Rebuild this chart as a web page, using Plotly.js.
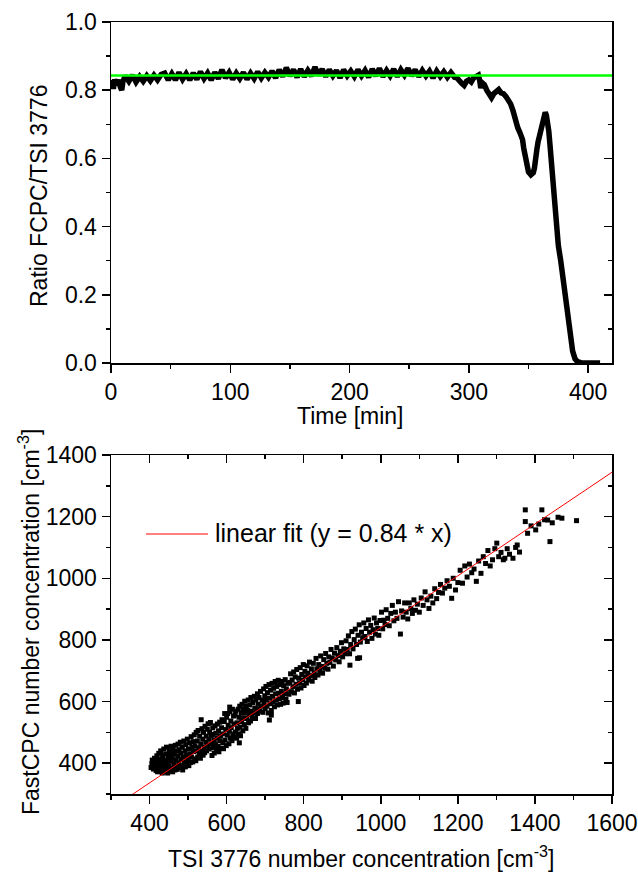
<!DOCTYPE html>
<html>
<head>
<meta charset="utf-8">
<script src="https://cdn.plot.ly/plotly-3.0.1.min.js"></script>
<style>html,body{margin:0;padding:0;background:#fff;}</style>
</head>
<body>
<div id="chart" style="width:638px;height:875px;"></div>
<script>
// ---- Top panel: ratio FastCPC / TSI 3776 over time ----
const timeMin = [
  0,1,2,3,4,6,8,9,10,
  12,15,18,21,24,27,30,33,36,39,
  42,45,48,51,54,57,60,63,66,69,
  72,75,78,81,84,87,90,93,96,99,
  102,105,108,111,114,117,120,123,126,129,
  132,135,138,141,144,147,150,153,156,159,
  162,165,168,171,174,177,180,183,186,189,
  192,195,198,201,204,207,210,213,216,219,
  222,225,228,231,234,237,240,243,246,249,
  252,255,258,261,264,267,270,273,276,279,
  282,285,288,290,292,294,296,298,300,302,
  304,306,308,309,310,311,313,315,317,319,
  321,323,325,327,329,331,333,335,337,339,
  341,343,345,346,347,348,349,350,352,354,
  355,356,357,358,359,360,361,362,363,364,
  365,366,367,368,369,370,371,372,373,374,
  375,377,379,381,383,385,387,389,391,394,
  400,405,410
];
const ratio = [
  0.815,0.828,0.804,0.832,0.816,0.83,0.808,0.8,0.826,
  0.842,0.826,0.844,0.824,0.84,0.826,0.842,0.828,0.844,0.83,
  0.846,0.85,0.83,0.848,0.83,0.852,0.832,0.848,0.83,0.85,
  0.832,0.854,0.834,0.85,0.83,0.852,0.834,0.86,0.836,0.852,
  0.832,0.85,0.834,0.852,0.832,0.85,0.834,0.854,0.836,0.852,
  0.838,0.856,0.836,0.86,0.84,0.866,0.842,0.86,0.838,0.862,
  0.84,0.858,0.842,0.868,0.844,0.862,0.84,0.86,0.842,0.858,
  0.836,0.86,0.842,0.856,0.84,0.86,0.842,0.858,0.838,0.862,
  0.842,0.864,0.84,0.858,0.842,0.862,0.84,0.86,0.844,0.864,
  0.842,0.86,0.84,0.858,0.842,0.856,0.836,0.856,0.84,0.854,
  0.838,0.852,0.838,0.836,0.826,0.82,0.814,0.826,0.83,0.824,
  0.836,0.84,0.844,0.83,0.806,0.822,0.816,0.8,0.784,0.778,
  0.79,0.798,0.802,0.792,0.79,0.782,0.774,0.76,0.74,0.706,
  0.69,0.674,0.655,0.63,0.61,0.59,0.572,0.56,0.552,0.558,
  0.572,0.59,0.626,0.648,0.664,0.672,0.694,0.716,0.73,0.735,
  0.726,0.71,0.68,0.64,0.59,0.555,0.52,0.48,0.43,0.385,
  0.345,0.30,0.25,0.20,0.14,0.08,0.035,0.012,0.004,0.001,
  0,0,0
];
const meanRatio = 0.843;
const meanLineX = [0, 420];

// ---- Bottom panel: FastCPC vs TSI 3776 number concentration ----
const tsi = [
  404,406,407,409,410,412,413,415,417,418,419,420,
  421,422,424,425,426,428,429,430,432,433,434,436,437,438,440,440,
  442,443,444,446,447,448,450,451,452,454,455,456,458,459,460,461,463,464,466,467,468,469,470,
  472,473,474,476,477,478,480,481,482,484,485,486,488,489,490,492,493,494,496,497,498,500,501,502,504,505,506,508,509,510,
  512,513,514,516,517,518,520,521,522,524,525,526,528,529,530,532,533,534,535,536,538,539,540,542,543,544,546,547,548,550,551,552,554,555,556,558,559,560,
  562,563,564,566,567,568,570,571,572,574,575,576,578,579,580,582,583,584,586,587,588,590,591,592,594,595,596,598,599,600,602,603,604,606,607,608,610,611,612,614,615,616,618,619,620,608,
  622,623,624,626,627,628,630,631,632,634,635,636,638,639,640,642,643,644,646,647,648,650,651,652,654,656,657,658,660,662,663,664,666,668,670,672,673,675,676,678,680,680,633,
  682,684,686,688,690,692,694,696,697,699,700,702,703,705,706,708,710,711,713,714,716,718,719,721,722,724,726,727,729,730,732,734,735,737,738,740,742,744,745,747,748,750,752,754,755,757,759,760,711,716,
  762,764,766,768,770,772,774,776,778,780,782,784,786,787,789,791,793,795,797,799,801,803,805,807,809,811,813,815,818,820,822,825,827,829,832,834,837,839,842,844,847,849,852,855,857,860,
  863,865,868,871,874,877,880,883,886,889,892,895,898,901,904,907,910,913,916,919,922,925,928,931,934,937,940,941,944,947,950,953,956,959,962,965,968,971,974,977,980,983,986,989,992,995,998,920,945,
  1002,1005,1008,1011,1014,1018,1022,1026,1030,1034,1038,1042,1046,1051,1054,1058,1062,1066,1070,1074,1078,1082,1086,1090,1095,1100,1105,1110,1115,1120,1125,1130,1135,1140,1145,1150,1155,1160,1166,1172,1178,1184,1188,1194,1200,
  1206,1212,1218,1224,1230,1236,1242,1248,1254,1260,1266,1272,1278,1284,1290,1296,1301,1306,1312,1318,1322,1328,1334,1343,1350,1354,1360,1375,1375,1381,1390,1402,1410,1418,1425,1433,1439,1445,1460,1470,1508
];
const fastcpc = [
  386,398,410,392,381,403,416,388,376,398,424,410,
  372,386,432,398,414,378,440,392,404,368,425,384,446,410,372,396,
  430,382,452,404,368,418,390,440,376,428,406,455,384,416,372,444,398,430,378,458,410,390,440,
  380,424,462,400,444,386,468,414,432,392,452,378,420,472,404,440,388,460,426,396,478,412,446,392,466,430,402,486,420,452,
  404,470,438,492,414,456,408,500,440,472,420,506,450,428,488,416,462,541,438,512,478,426,500,452,434,520,468,488,440,510,458,528,478,446,500,532,462,490,
  425,493,515,451,475,433,521,463,497,441,481,527,455,505,437,533,473,489,449,515,541,467,495,447,535,561,475,509,457,549,491,561,523,463,505,567,481,537,515,473,575,495,553,527,485,582,
  557,501,569,481,531,513,575,495,549,585,517,489,563,535,591,505,575,547,525,601,563,513,585,545,571,605,531,559,589,537,613,569,551,597,563,617,579,545,605,575,625,561,466,
  591,613,569,633,585,605,565,641,595,619,577,649,605,585,629,563,655,611,593,637,571,659,617,599,643,583,665,625,605,649,589,669,627,609,655,591,633,665,613,595,651,625,671,607,641,597,659,625,540,556,
  624,662,690,632,670,648,696,628,680,656,704,640,600,676,660,710,644,688,670,720,652,698,680,660,716,692,670,728,684,706,666,724,692,678,740,706,686,720,700,748,714,692,736,708,756,724,
  705,745,727,769,741,715,757,735,775,749,729,763,791,745,771,755,797,769,813,755,785,827,771,801,835,785,740,815,849,793,825,807,855,811,837,795,865,825,847,805,833,871,819,855,837,815,863,718,742,
  890,836,864,850,898,870,846,886,912,862,890,870,924,819,894,874,920,890,868,920,902,886,930,896,916,890,936,912,956,930,902,942,920,966,934,954,980,952,968,992,974,935,1000,962,986,
  1026,984,1040,1004,1046,1018,1030,990,1056,1016,1070,1048,1090,1040,1060,1096,1114,1070,1084,1060,1065,1096,1078,1065,1100,1108,1085,1222,1184,1146,1170,1157,1176,1222,1190,1189,1119,1180,1198,1195,1187
];
const fitSlope = 0.84;
const fitX = [300, 1600];
const fitLabel = 'linear fit (y = 0.84 * x)';

if (tsi.length !== fastcpc.length) throw new Error('length mismatch ' + tsi.length + ' vs ' + fastcpc.length);
if (timeMin.length !== ratio.length) throw new Error('length mismatch ' + timeMin.length + ' vs ' + ratio.length);

// ---- layout helpers (pixel -> paper) ----
const W = 638, H = 875, ML = 111, MR = 26, MT = 22, MB = 81;
const PW = W - ML - MR, PH = H - MT - MB;
const px = v => (v - ML) / PW;
const py = v => 1 - (v - MT) / PH;

const FONT = 'Liberation Sans, Arial, Helvetica, sans-serif';
const FS = 23;
const LW = 1.5;

const baseAxis = {
  showline: true, linecolor: 'black', linewidth: LW,
  showgrid: false, zeroline: false,
  ticks: 'outside', ticklen: 8, tickwidth: LW, tickcolor: 'black',
  tickfont: {family: FONT, size: FS, color: 'black'},
  fixedrange: true
};
const innerAxis = {
  showline: false, showgrid: false, zeroline: false, showticklabels: false,
  ticks: 'inside', ticklen: 8, tickwidth: LW, tickcolor: 'black', fixedrange: true
};

const traces = [
  {type: 'scatter', mode: 'lines', x: timeMin, y: ratio, xaxis: 'x', yaxis: 'y',
   line: {color: 'black', width: 5.5}, hoverinfo: 'skip'},
  {type: 'scatter', mode: 'lines', x: meanLineX, y: meanLineX.map(() => meanRatio), xaxis: 'x', yaxis: 'y',
   line: {color: '#00ff00', width: 2.5}, hoverinfo: 'skip'},
  {type: 'scatter', mode: 'markers', x: tsi, y: fastcpc, xaxis: 'x2', yaxis: 'y2',
   marker: {symbol: 'square', size: 5, color: 'black', line: {width: 0}}, hoverinfo: 'skip'},
  {type: 'scatter', mode: 'lines', x: fitX, y: fitX.map(v => fitSlope * v), xaxis: 'x2', yaxis: 'y2',
   line: {color: 'red', width: 1}, hoverinfo: 'skip'},
  // empty traces so that the inward-tick overlay axes are drawn
  {type: 'scatter', mode: 'markers', x: [], y: [], xaxis: 'x', yaxis: 'y3'},
  {type: 'scatter', mode: 'markers', x: [], y: [], xaxis: 'x5', yaxis: 'y2'},
  {type: 'scatter', mode: 'markers', x: [], y: [], xaxis: 'x2', yaxis: 'y5'}
];

const layout = {
  width: W, height: H,
  margin: {l: ML, r: MR, t: MT, b: MB, pad: 0},
  paper_bgcolor: 'white', plot_bgcolor: 'white',
  showlegend: false,
  font: {family: FONT, size: FS, color: 'black'},
  xaxis: Object.assign({}, baseAxis, {
    domain: [0, 1], anchor: 'y', range: [0, 420], tick0: 0, dtick: 100, mirror: true,
    minor: {dtick: 50, ticks: 'outside', ticklen: 4, tickwidth: LW, tickcolor: 'black', showgrid: false}
  }),
  yaxis: Object.assign({}, baseAxis, {
    domain: [py(363), 1], anchor: 'x', range: [0, 1], tick0: 0, dtick: 0.2, tickformat: '.1f', mirror: true,
    minor: {dtick: 0.1, ticks: 'outside', ticklen: 4, tickwidth: LW, tickcolor: 'black', showgrid: false}
  }),
  yaxis3: Object.assign({}, innerAxis, {
    overlaying: 'y', side: 'right', anchor: 'x', range: [0, 1], tick0: 0, dtick: 0.2,
    minor: {dtick: 0.1, ticks: 'inside', ticklen: 4, tickwidth: LW, tickcolor: 'black', showgrid: false}
  }),
  xaxis2: Object.assign({}, baseAxis, {
    domain: [0, 1], anchor: 'y2', range: [300, 1600], tick0: 0, dtick: 200, mirror: true,
    minor: {dtick: 100, ticks: 'outside', ticklen: 4, tickwidth: LW, tickcolor: 'black', showgrid: false}
  }),
  yaxis2: Object.assign({}, baseAxis, {
    domain: [0, py(455)], anchor: 'x2', range: [300, 1400], tick0: 0, dtick: 200, mirror: true,
    minor: {dtick: 100, ticks: 'outside', ticklen: 4, tickwidth: LW, tickcolor: 'black', showgrid: false}
  }),
  xaxis5: Object.assign({}, innerAxis, {
    overlaying: 'x2', side: 'top', anchor: 'y2', range: [300, 1600], tick0: 0, dtick: 200,
    minor: {dtick: 100, ticks: 'inside', ticklen: 4, tickwidth: LW, tickcolor: 'black', showgrid: false}
  }),
  yaxis5: Object.assign({}, innerAxis, {
    overlaying: 'y2', side: 'right', anchor: 'x2', range: [300, 1400], tick0: 0, dtick: 200,
    minor: {dtick: 100, ticks: 'inside', ticklen: 4, tickwidth: LW, tickcolor: 'black', showgrid: false}
  }),
  shapes: [
    {type: 'line', xref: 'paper', yref: 'paper', x0: px(146), x1: px(208), y0: py(534), y1: py(534),
     line: {color: 'red', width: 1}}
  ],
  annotations: [
    {text: 'Time [min]', xref: 'paper', yref: 'paper', x: px(350), y: py(416),
     xanchor: 'center', yanchor: 'middle', showarrow: false, font: {family: FONT, size: FS}},
    {text: 'Ratio FCPC/TSI 3776', xref: 'paper', yref: 'paper', x: px(39), y: py(196),
     xanchor: 'center', yanchor: 'middle', textangle: -90, showarrow: false, font: {family: FONT, size: FS}},
    {text: 'FastCPC number concentration [cm<sup>-3</sup>]', xref: 'paper', yref: 'paper', x: px(29), y: py(622),
     xanchor: 'center', yanchor: 'middle', textangle: -90, showarrow: false, font: {family: FONT, size: FS}},
    {text: 'TSI 3776 number concentration [cm<sup>-3</sup>]', xref: 'paper', yref: 'paper', x: px(361), y: py(857),
     xanchor: 'center', yanchor: 'middle', showarrow: false, font: {family: FONT, size: FS}},
    {text: fitLabel, xref: 'paper', yref: 'paper', x: px(213), y: py(533),
     xanchor: 'left', yanchor: 'middle', showarrow: false, font: {family: FONT, size: 25}}
  ]
};

Plotly.newPlot('chart', traces, layout, {staticPlot: true, displayModeBar: false});
</script>
</body>
</html>
